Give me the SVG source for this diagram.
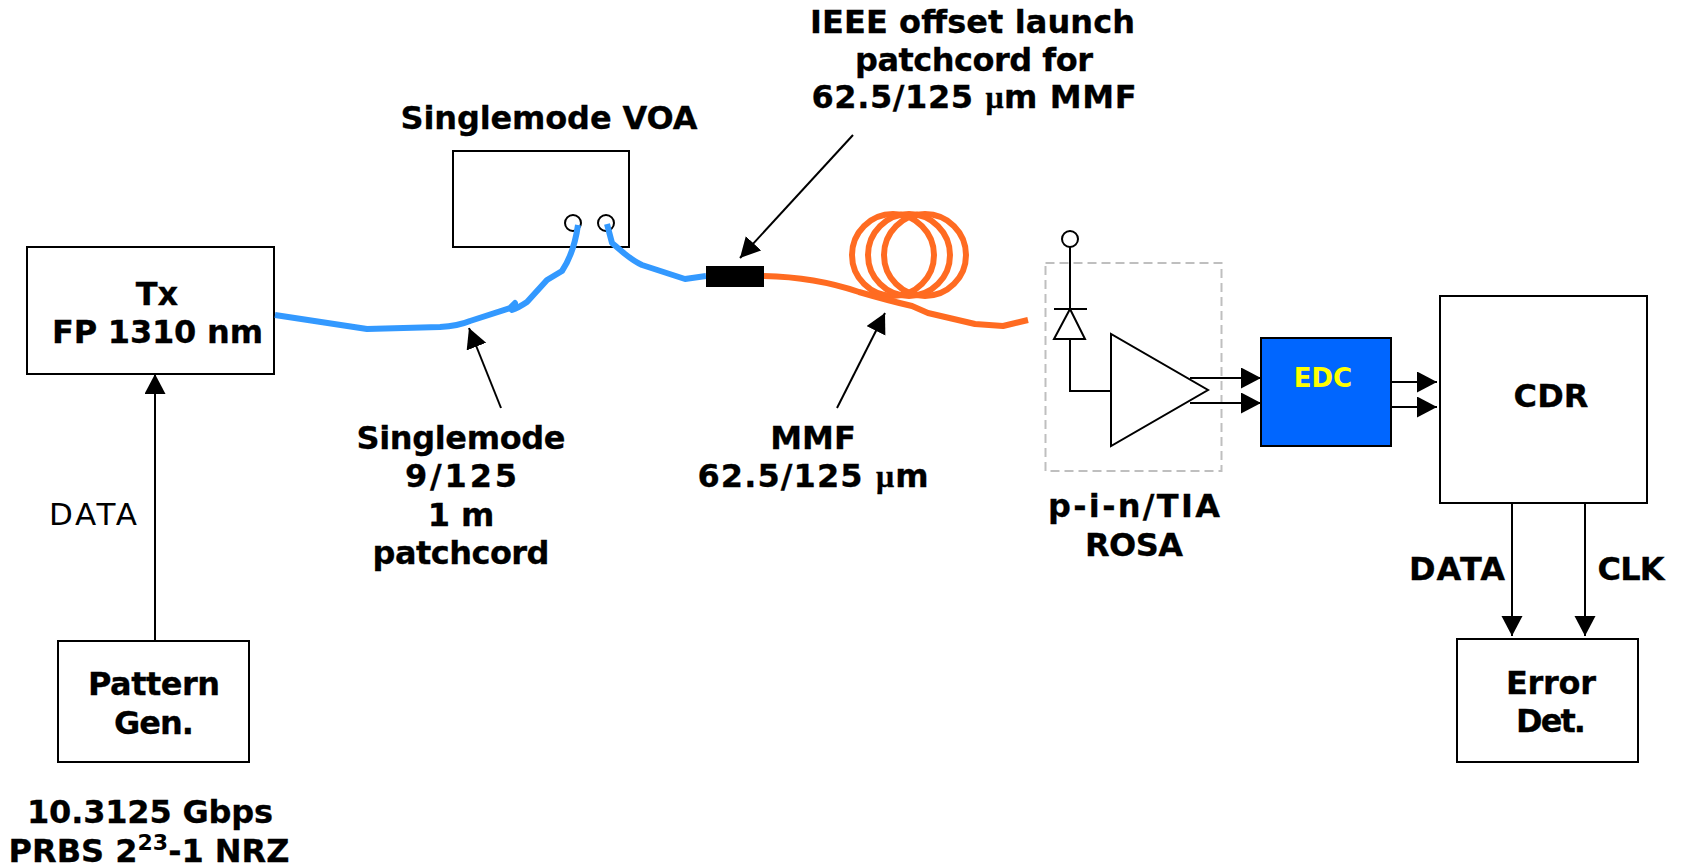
<svg xmlns="http://www.w3.org/2000/svg" width="1683" height="866" viewBox="0 0 1683 866">
<style>
text{font-family:"DejaVu Sans","Liberation Sans",sans-serif;font-weight:700;font-size:32px;fill:#000;stroke:#000;stroke-width:.3px;text-anchor:middle}
.box{fill:#fff;stroke:#000;stroke-width:2}
.wire{fill:none;stroke:#000;stroke-width:2}
.arr{fill:none;stroke:#000;stroke-width:2;marker-end:url(#ah)}
.blue{fill:none;stroke:#3399ff;stroke-width:6;stroke-linejoin:round}
.orange{fill:none;stroke:#ff6b21;stroke-width:6;stroke-linejoin:round}
.mu{font-family:"Liberation Serif",serif}
</style>
<defs>
<marker id="ah" markerUnits="userSpaceOnUse" markerWidth="22" markerHeight="22" refX="20" refY="10.5" orient="auto"><path d="M0 0L20 10.500L0 21Z" fill="#000"/></marker>
</defs>
<g id="tx"><rect class="box" x="27" y="247" width="247" height="127"/><text x="157" y="305">Tx</text><text x="157.500" y="343" textLength="211">FP 1310 nm</text></g>
<g id="pattern-gen"><rect class="box" x="58" y="641" width="191" height="121"/><text x="154" y="695" textLength="132">Pattern</text><text x="154" y="734" textLength="80">Gen.</text></g>
<text x="150" y="823" textLength="246">10.3125 Gbps</text>
<text x="149" y="862">PRBS 2<tspan font-size="22" dy="-12" style="stroke:none">23</tspan><tspan dy="12">-1 NRZ</tspan></text>
<text x="93" y="525" textLength="88" style="font-weight:400;font-size:31px;stroke:none">DATA</text>
<g id="voa"><rect class="box" x="453" y="151" width="176" height="96"/><circle class="wire" cx="573" cy="223" r="8"/><circle class="wire" cx="606" cy="223" r="8"/><text x="549" y="129" textLength="297">Singlemode VOA</text></g>
<g id="coil" fill="none" stroke="#ff6b21" stroke-width="6"><circle cx="893" cy="255" r="41"/><circle cx="909" cy="255" r="41"/><circle cx="925" cy="255" r="41"/></g>
<g id="fibers">
<path class="blue" d="M275 315L367 329L440 327Q458 326 470 321L510 308L515 303L512 310Q518 308 527 302L547 280L562 271Q574 253 578 225"/>
<path class="blue" d="M607 224L612 243L625 254Q635 262 642 265L685 279L706 276"/>
<path class="orange" d="M764 276Q815 277 859 292Q890 301 912 306L928 313L975 324L1003 326L1028 320"/>
</g>
<g id="connector"><rect x="706" y="266" width="58" height="21" fill="#000"/></g>
<text x="972.500" y="33" textLength="325">IEEE offset launch</text>
<text x="974" y="71" textLength="238">patchcord for</text>
<text x="974" y="108" textLength="325">62.5/125 <tspan class="mu">μ</tspan>m MMF</text>
<text x="461" y="449" textLength="209">Singlemode</text><text x="461" y="487" textLength="112">9/125</text><text x="461" y="526">1 m</text><text x="461" y="564" textLength="177">patchcord</text>
<text x="813" y="449">MMF</text><text x="813" y="487" textLength="231">62.5/125 <tspan class="mu">μ</tspan>m</text>
<g id="rosa">
<rect x="1045.500" y="263" width="176" height="208" fill="none" stroke="#bfbfbf" stroke-width="2" stroke-dasharray="9 5"/>
<circle class="wire" cx="1070" cy="239" r="8"/>
<path class="wire" d="M1070 247V309M1054 309H1087M1070 309L1054 339H1085ZM1070 339V391H1111"/>
<path class="box" d="M1111 334V446L1208 390Z"/>
<text x="1134" y="517" textLength="172">p-i-n/TIA</text><text x="1134" y="556" textLength="98">ROSA</text>
</g>
<g id="edc"><rect x="1261" y="338" width="130" height="108" fill="#0066ff" stroke="#000" stroke-width="2"/><text x="1323" y="387" style="fill:#ffff00;font-size:26px;stroke:none">EDC</text></g>
<g id="cdr"><rect class="box" x="1440" y="296" width="207" height="207"/><text x="1551" y="407" textLength="75">CDR</text></g>
<text x="1457" y="580" textLength="96">DATA</text><text x="1631" y="580" textLength="67">CLK</text>
<g id="error-det"><rect class="box" x="1457" y="639" width="181" height="123"/><text x="1551" y="694" textLength="90">Error</text><text x="1551" y="732" textLength="70">Det.</text></g>
<g id="connectors">
<path class="arr" d="M155 640V374"/>
<path class="arr" d="M853 135L740 258"/>
<path class="arr" d="M501 408L469 328"/>
<path class="arr" d="M837 408L885 313"/>
<path class="arr" d="M1512 503V636"/>
<path class="arr" d="M1585 503V636"/>
<path class="arr" d="M1190 378H1261"/>
<path class="arr" d="M1190 403H1261"/>
<path class="arr" d="M1391 382H1437"/>
<path class="arr" d="M1391 407H1437"/>
</g>
</svg>
